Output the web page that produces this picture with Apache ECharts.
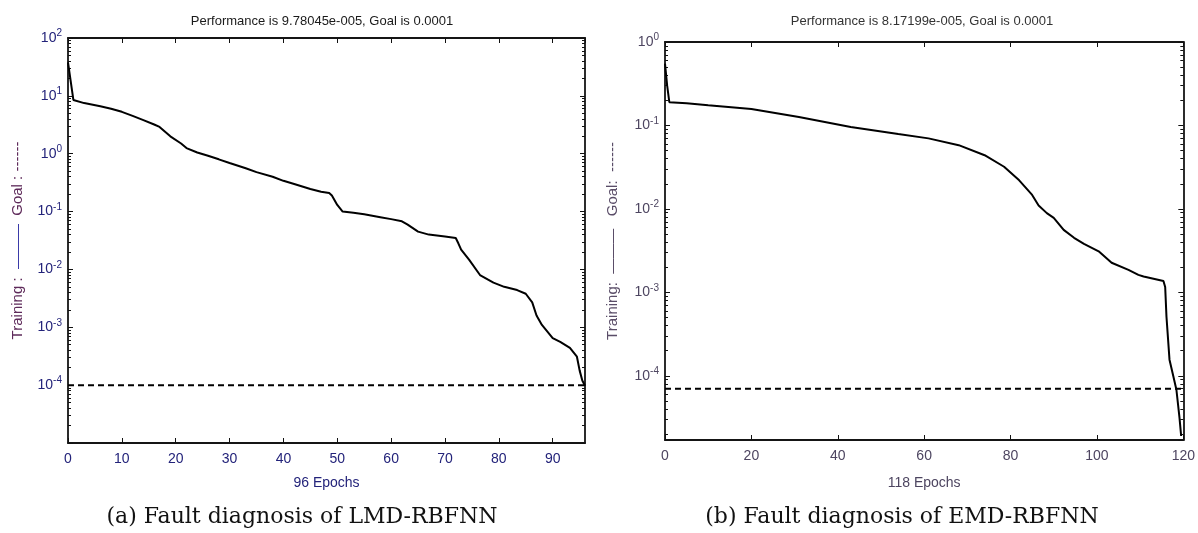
<!DOCTYPE html>
<html><head><meta charset="utf-8">
<script src="https://cdn.jsdelivr.net/npm/echarts@6/dist/echarts.min.js"></script>
<style>html,body{margin:0;padding:0;background:#fff}#c{width:1198px;height:533px}</style>
</head><body><div id="c"></div>
<script>
// ---- Data ----
const titleA = 'Performance is 9.78045e-005, Goal is 0.0001';
const titleB = 'Performance is 8.17199e-005, Goal is 0.0001';
const captionA = '(a) Fault diagnosis of LMD-RBFNN';
const captionB = '(b) Fault diagnosis of EMD-RBFNN';
const xNameA = '96 Epochs';
const xNameB = '118 Epochs';

// LMD-RBFNN training curve
const epochA = [0,1,3,6,8,10,12,14,16,17,19,21,22,24,26,28,30,33,35,38,40,42,45,47,48.5,49,50,51,53,55,58,60,62,63,65,67,70,72,72.5,73,74.5,76.5,79,81,83.4,85,86.2,87,88,90,91.4,93.2,94.5,95,95.5,96];
const perfA  = [38,8.5,7.5,6.6,6.0,5.3,4.5,3.8,3.2,2.9,2.0,1.5,1.25,1.05,0.92,0.8,0.69,0.56,0.48,0.4,0.34,0.3,0.245,0.22,0.21,0.19,0.13,0.1,0.095,0.09,0.08,0.074,0.068,0.06,0.045,0.04,0.037,0.035,0.028,0.022,0.0146,0.008,0.0059,0.005,0.0044,0.0038,0.0027,0.0016,0.0011,0.00065,0.00056,0.00044,0.00031,0.00018,0.00012,0.0000978];
const goalA = 0.0001;
const xMaxA = 96;

// EMD-RBFNN training curve
const epochB = [0,0.5,1,5,10,20,31,43,54,61,68,74,78.5,82,85,86.5,88.4,90,92.3,94.7,97,100.4,103.4,107.3,109.6,110.8,115.4,115.8,116.1,116.8,117.7,118.4,119.1,119.5];
const perfB  = [0.55,0.3,0.19,0.185,0.175,0.157,0.126,0.096,0.079,0.07,0.058,0.044,0.032,0.022,0.0147,0.011,0.0089,0.0078,0.0056,0.0045,0.0038,0.0031,0.00226,0.00186,0.00162,0.00155,0.00137,0.00116,0.00051,0.000156,0.000098,0.000068,0.000032,0.000019];
const goalB = 0.00007;
const xMaxB = 120;

// ---- Chart ----
const chart = echarts.init(document.getElementById('c'), null, {renderer: 'canvas'});
const FONT = 'Liberation Sans';
const colA = '#23237a', colB = '#4d4560';

function yLabel(col) {
  return {
    inside: false, margin: 6, color: col, fontFamily: FONT,
    showMinLabel: false,
    formatter: v => '{b|10}{s|' + Math.round(Math.log10(v)) + '}',
    rich: {
      b: {fontSize: 14, color: col, fontFamily: FONT},
      s: {fontSize: 10, color: col, fontFamily: FONT, verticalAlign: 'top', padding: [0, 0, 9, 0]}
    }
  };
}
const axisLine = {show: true, onZero: false, lineStyle: {color: '#151515', width: 1.8}};
const tickIn = {show: true, inside: true, length: 5, lineStyle: {color: '#111', width: 1}};
const minorIn = {show: true, splitNumber: 9, length: 3, lineStyle: {color: '#111', width: 1}};

function yAxes(grid, min, max, col, nameCol, dashCol, nameTxt, gap) {
  return [
    {type: 'log', logBase: 10, gridIndex: grid, min: min, max: max, position: 'left',
     axisLine: axisLine, axisTick: tickIn, minorTick: minorIn, splitLine: {show: false},
     axisLabel: yLabel(col),
     name: nameTxt, nameLocation: 'middle', nameGap: gap,
     nameTextStyle: {fontFamily: FONT, fontSize: 15, color: nameCol,
       rich: {t: {fontFamily: FONT, fontSize: 15, color: nameCol}, l: {fontFamily: FONT, fontSize: 15, color: dashCol}}}},
    {type: 'log', logBase: 10, gridIndex: grid, min: min, max: max, position: 'right',
     axisLine: axisLine, axisTick: tickIn, minorTick: minorIn, splitLine: {show: false},
     axisLabel: {show: false}}
  ];
}
function xAxes(grid, max, interval, col, name, gap) {
  return [
    {type: 'value', gridIndex: grid, min: 0, max: max, interval: interval, position: 'bottom',
     axisLine: axisLine, axisTick: tickIn, splitLine: {show: false},
     axisLabel: {color: col, fontFamily: FONT, fontSize: 14, margin: 9, showMaxLabel: max % interval === 0},
     name: name, nameLocation: 'middle', nameGap: gap,
     nameTextStyle: {fontFamily: FONT, fontSize: 14, color: col}},
    {type: 'value', gridIndex: grid, min: 0, max: max, interval: interval, position: 'top',
     axisLine: axisLine, axisTick: tickIn, splitLine: {show: false}, axisLabel: {show: false}}
  ];
}

const option = {
  backgroundColor: '#fff',
  animation: false,
  grid: [
    {left: 68, top: 38, width: 517, height: 405},
    {left: 665, top: 42, width: 519, height: 398}
  ],
  xAxis: [].concat(xAxes(0, xMaxA, 10, colA, xNameA, 33), xAxes(1, xMaxB, 20, colB, xNameB, 36)),
  yAxis: [].concat(
    yAxes(0, 1e-5, 100, colA, '#5e2a5a', '#3a3aa8', '{t|Training :  }{l|———}{t|  Goal : ------}', 43),
    yAxes(1, 1.7e-5, 1, colB, '#5a4d68', '#5a4d68', '{t|Training:  }{l|———}{t|   Goal:  ------}', 45)
  ),
  graphic: [
    {type: 'text', x: 322, y: 21, style: {text: titleA, font: '13px "Liberation Sans"', fill: '#1a1a1a', align: 'center', verticalAlign: 'middle'}},
    {type: 'text', x: 922, y: 21, style: {text: titleB, font: '13px "Liberation Sans"', fill: '#333', align: 'center', verticalAlign: 'middle'}},
    {type: 'text', x: 302, y: 517, style: {text: captionA, font: '22px "DejaVu Serif"', fill: '#111', align: 'center', verticalAlign: 'middle'}},
    {type: 'text', x: 902, y: 517, style: {text: captionB, font: '22px "DejaVu Serif"', fill: '#111', align: 'center', verticalAlign: 'middle'}}
  ],
  series: [
    {type: 'line', xAxisIndex: 0, yAxisIndex: 0, showSymbol: false, silent: true,
     lineStyle: {color: '#000', width: 2}, data: epochA.map((e, i) => [e, perfA[i]])},
    {type: 'line', xAxisIndex: 0, yAxisIndex: 0, showSymbol: false, silent: true,
     lineStyle: {color: '#000', width: 2, type: [6, 4]}, data: [[0, goalA], [xMaxA, goalA]]},
    {type: 'line', xAxisIndex: 2, yAxisIndex: 2, showSymbol: false, silent: true,
     lineStyle: {color: '#000', width: 2}, data: epochB.map((e, i) => [e, perfB[i]])},
    {type: 'line', xAxisIndex: 2, yAxisIndex: 2, showSymbol: false, silent: true,
     lineStyle: {color: '#000', width: 2, type: [6, 4]}, data: [[0, goalB], [xMaxB, goalB]]}
  ]
};
chart.setOption(option);
</script>
</body></html>
